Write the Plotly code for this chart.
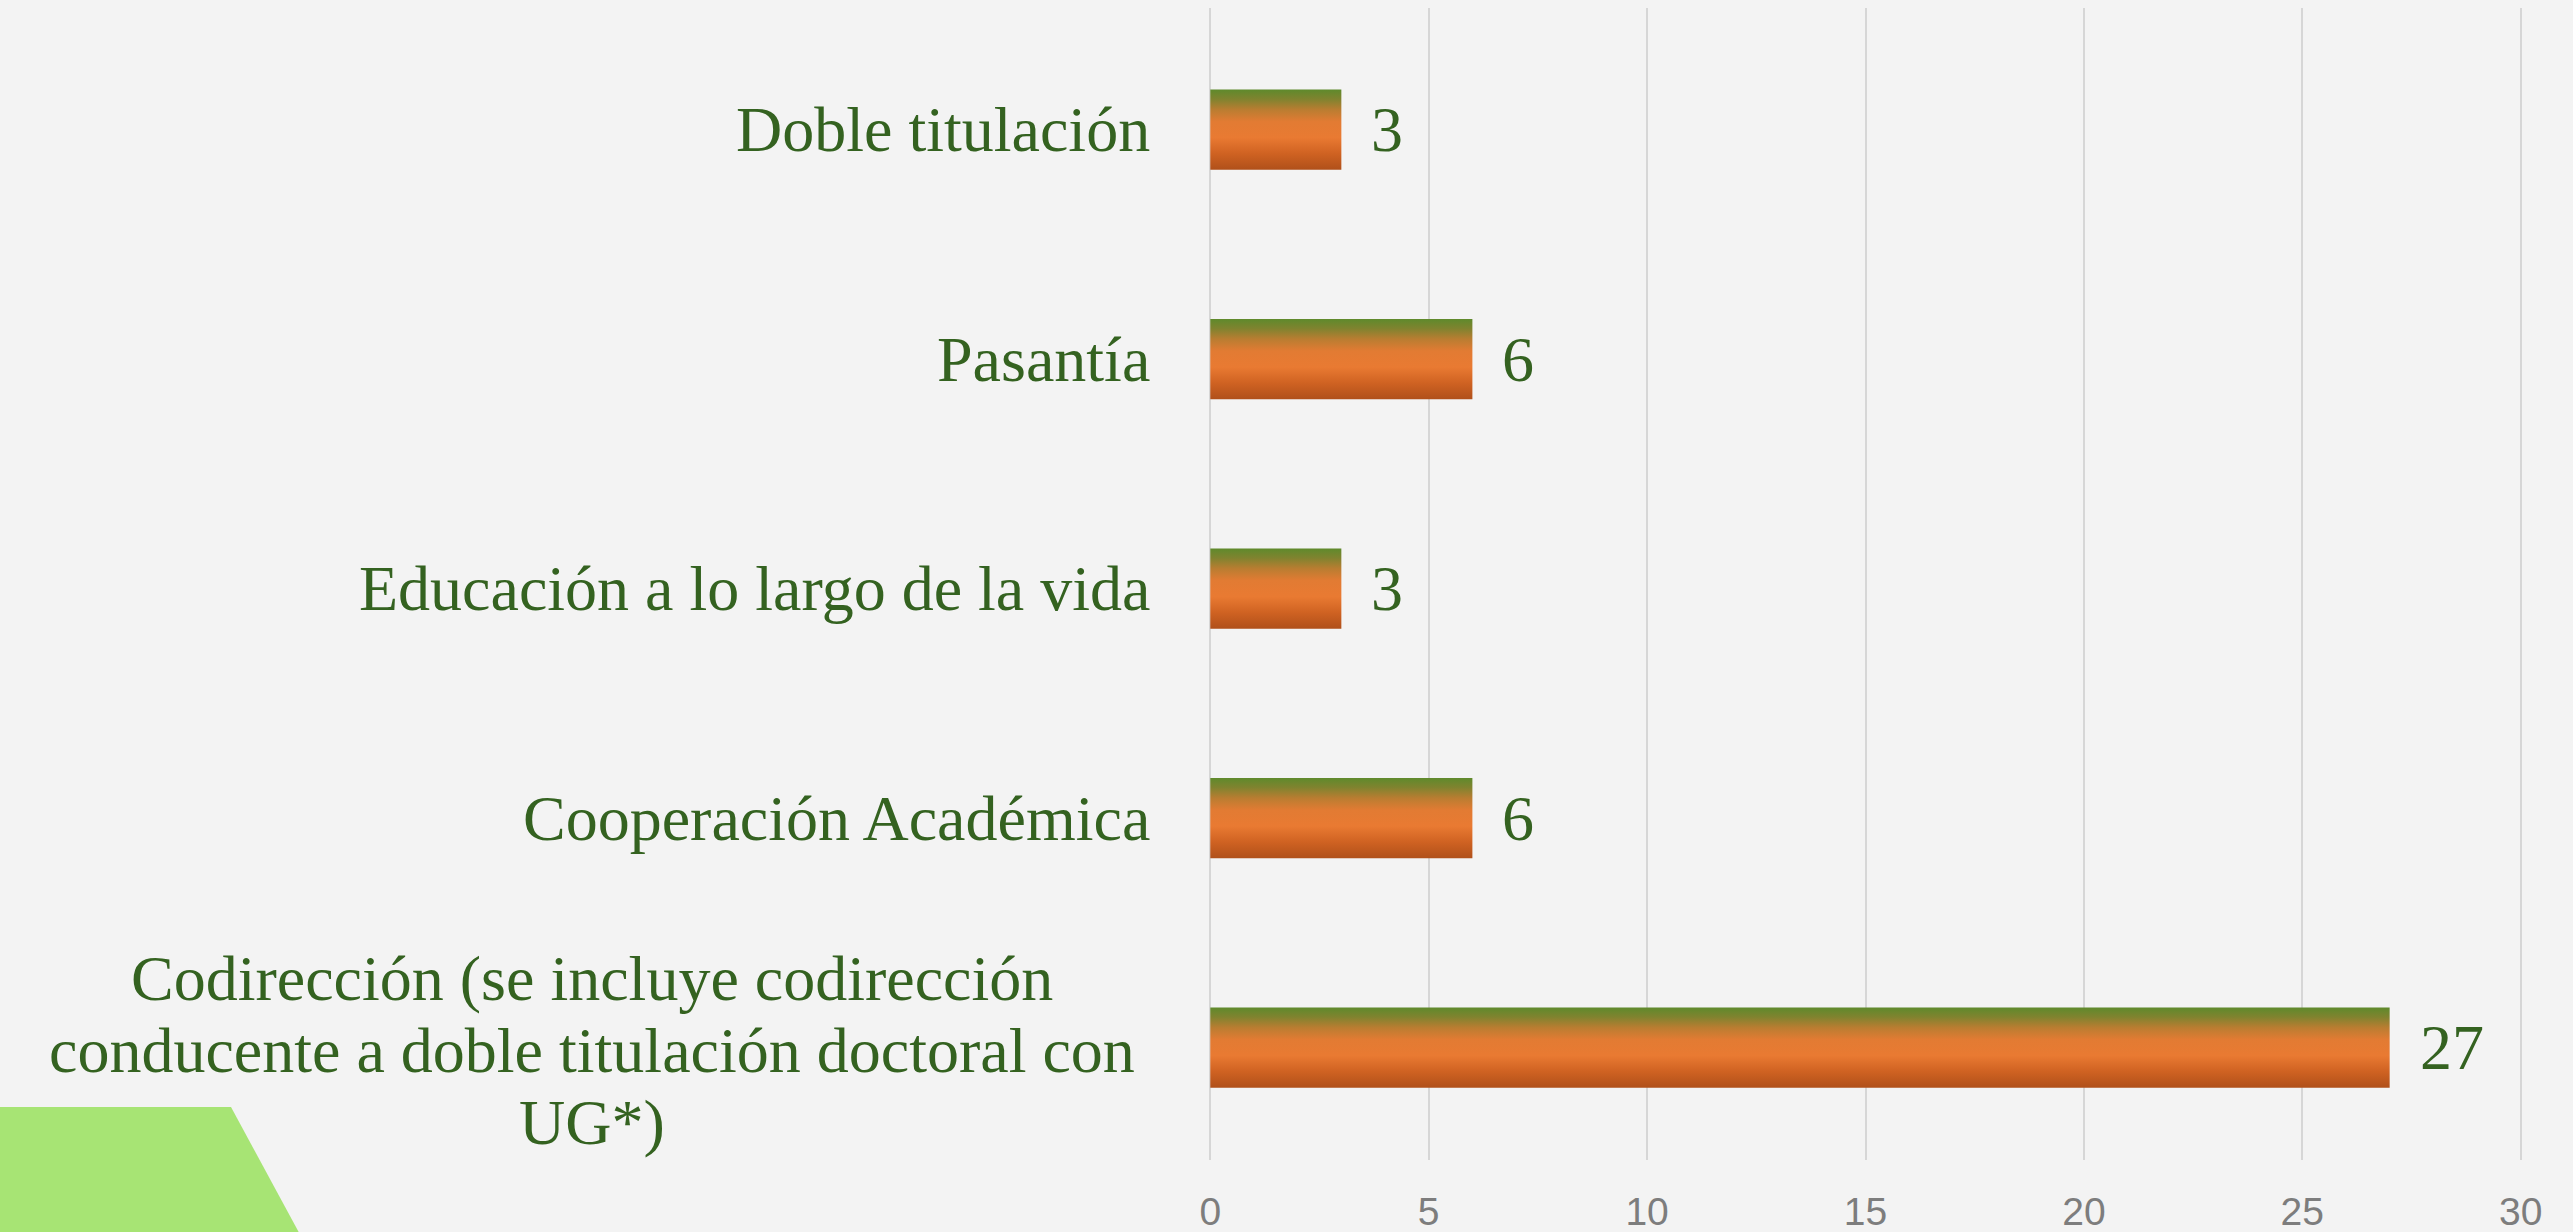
import plotly.graph_objects as go

# data, bottom to top
categories = [
    "Codirección (se incluye codirección<br>conducente a doble titulación doctoral con<br>UG*)",
    "Cooperación Académica",
    "Educación a lo largo de la vida",
    "Pasantía",
    "Doble titulación",
]
values = [27, 6, 3, 6, 3]
x_ticks = [0, 5, 10, 15, 20, 25, 30]

GREEN_TEXT = "#346220"
BG = "#f3f3f3"
bar_half = 0.175
gradient = [
    [0.0, "#b0501a"],
    [0.2, "#cf6222"],
    [0.4, "#e97a32"],
    [0.6, "#e27b33"],
    [0.75, "#b97d31"],
    [0.88, "#80832f"],
    [1.0, "#5e8a2c"],
]

fig = go.Figure()

for i, v in enumerate(values):
    fig.add_trace(go.Scatter(
        x=[0, v, v, 0, 0],
        y=[i - bar_half, i - bar_half, i + bar_half, i + bar_half, i - bar_half],
        mode="lines",
        fill="toself",
        fillgradient=dict(type="vertical", colorscale=gradient),
        line=dict(width=0),
        hoverinfo="skip",
        showlegend=False,
    ))

annotations = []
# value labels
for i, v in enumerate(values):
    annotations.append(dict(
        x=v, y=i, xref="x", yref="y", text=str(v), showarrow=False,
        xanchor="left", xshift=28,
        font=dict(family="Liberation Serif", size=64, color=GREEN_TEXT),
    ))

# category labels (multi-line ones centred line by line)
for i, cat in enumerate(categories):
    lines = cat.split("<br>")
    if len(lines) == 1:
        annotations.append(dict(
            x=0, y=i, xref="x", yref="y", text=cat, showarrow=False,
            xanchor="right", xshift=-58,
            font=dict(family="Liberation Serif", size=64, color=GREEN_TEXT),
        ))
    else:
        n = len(lines)
        for k, line in enumerate(lines):
            annotations.append(dict(
                x=0, y=i, xref="x", yref="y", text=line, showarrow=False,
                xanchor="center", xshift=-618,
                yshift=72 * ((n - 1) / 2 - k) - 3,
                font=dict(family="Liberation Serif", size=64, color=GREEN_TEXT),
            ))

# green corner decoration (pixel positions mapped to paper coords)
L, R, T, B = 1209, 2522, 8, 1160


def px_x(p):
    return (p - L) / (R - L)


def px_y(p):
    return (B - p) / (B - T)


fig.add_shape(
    type="path",
    xref="paper", yref="paper",
    path=f"M {px_x(0)},{px_y(1107)} L {px_x(231)},{px_y(1107)} "
         f"L {px_x(303)},{px_y(1240)} L {px_x(0)},{px_y(1240)} Z",
    fillcolor="#a7e474", line=dict(width=0), layer="above",
)

fig.update_layout(
    width=2573,
    height=1232,
    paper_bgcolor=BG,
    plot_bgcolor=BG,
    margin=dict(l=L, r=2573 - R, t=T, b=1232 - B, autoexpand=False),
    annotations=annotations,
    hovermode=False,
)
fig.update_xaxes(
    range=[-0.03, 30.03],
    tickvals=x_ticks,
    showgrid=True, gridcolor="#d6d6d6", gridwidth=2,
    zeroline=False, showline=False, automargin=False,
    tickfont=dict(family="Liberation Sans", size=39, color="#7d7d7d"),
    ticklabelstandoff=25,
)
fig.update_yaxes(
    range=[-0.49, 4.53],
    showticklabels=False, showgrid=False, zeroline=False, showline=False,
    automargin=False,
)

fig.write_html(
    "out.html",
    config={"displayModeBar": False, "staticPlot": True},
    post_script=(
        "var gd=document.getElementById('{plot_id}');"
        "document.documentElement.style.margin='0px';"
        "document.documentElement.style.overflow='hidden';"
        "document.body.style.margin='0px';"
        "document.body.style.overflow='hidden';"
        "gd.style.position='fixed';gd.style.top='0px';gd.style.left='0px';"
    ),
)
